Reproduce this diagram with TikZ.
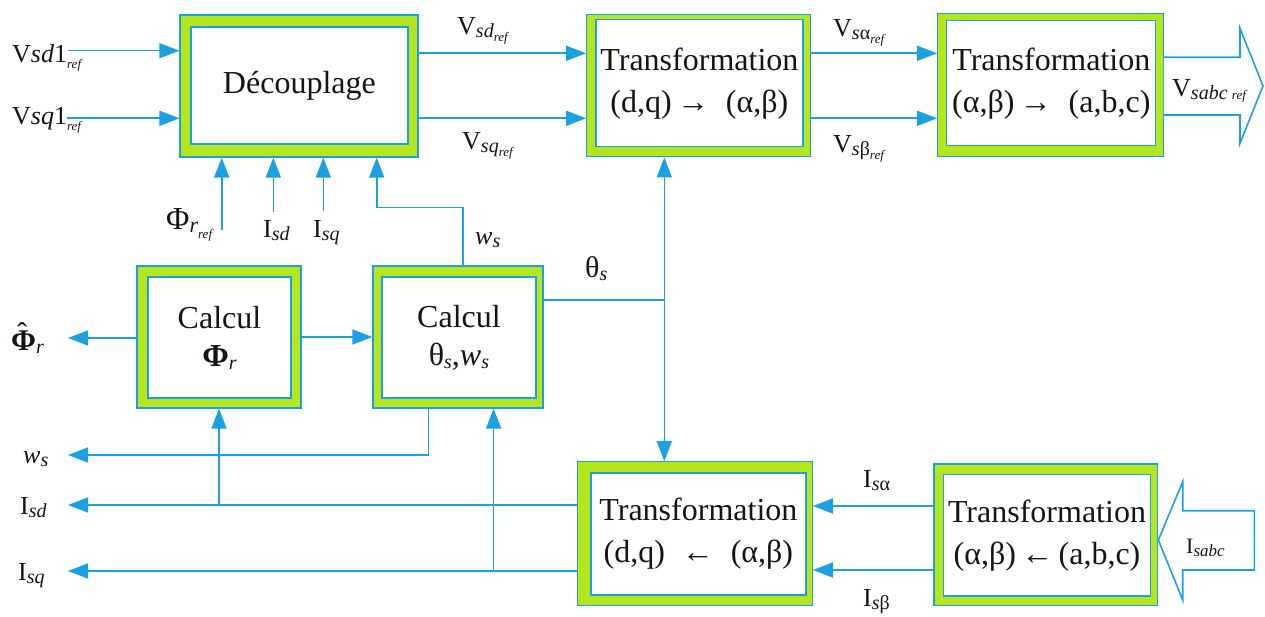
\documentclass[tikz,border=0pt]{standalone}
\usepackage{fontspec}
\setmainfont{Liberation Serif}
\usetikzlibrary{arrows.meta}
\definecolor{lineblue}{RGB}{27,161,226}
\definecolor{boxgreen}{RGB}{181,230,29}
\definecolor{txt}{RGB}{25,20,20}
\newcommand{\boxfont}{\fontsize{32}{42}\selectfont}
\newcommand{\labfont}{\fontsize{26}{30}\selectfont}
\newcommand{\sbi}[2][20]{\raisebox{-3pt}{\fontsize{#1}{#1}\selectfont\itshape #2}}
\newcommand{\rf}[1][-6pt]{\raisebox{#1}{\fontsize{13}{13}\selectfont\itshape ref}}
\newcommand{\phihat}{\makebox[0pt][l]{\hspace{0.2em}\raisebox{0.22em}{ˆ}}\textbf{Φ}}
\begin{document}
\begin{tikzpicture}[x=1pt,y=-1pt,
  outerbox/.style={draw=lineblue, fill=boxgreen, line width=1.2pt, inner sep=0pt},
  innerbox/.style={draw=lineblue, fill=white, line width=1.2pt, inner sep=0pt, align=center, font=\boxfont, text=txt},
  arr/.style={draw=lineblue, line width=1.6pt, -{Triangle[length=20pt,width=15pt]}},
  wire/.style={draw=lineblue, line width=1.6pt},
  bigarr/.style={draw=lineblue, line width=1.6pt, fill=white, line join=miter},
  lab/.style={inner sep=0pt, text=txt, font=\labfont, anchor=base west}]
\useasboundingbox (0,0) rectangle (1265,617);

% boxes
\node[outerbox, minimum width=238pt, minimum height=142pt] (dec) at (299,86) {};
\node[innerbox, minimum width=217pt, minimum height=117pt] (deci) at (299.4,85.5) {Découplage};

\node[outerbox, minimum width=224pt, minimum height=142pt] (t1) at (698.7,85.8) {};
\node[innerbox, minimum width=207pt, minimum height=127pt] (t1i) at (699.4,83.4) {Transformation\\(d,q)\,→\; (α,β)};

\node[outerbox, minimum width=225.6pt, minimum height=143.4pt] (t2) at (1050.5,85) {};
\node[innerbox, minimum width=209pt, minimum height=125pt] (t2i) at (1051.3,83.3) {Transformation\\(α,β)\,→\; (a,b,c)};

\node[outerbox, minimum width=164pt, minimum height=142pt] (cphi) at (219,337) {};
\node[innerbox, minimum width=143pt, minimum height=121pt] (cphii) at (219.5,337.5) {Calcul\\[-4pt]\textbf{Φ}\sbi{r}};

\node[outerbox, minimum width=170pt, minimum height=142pt] (cth) at (458,337) {};
\node[innerbox, minimum width=154pt, minimum height=121pt] (cthi) at (459,337.5) {Calcul\\[-4pt]θ\sbi{s},\textit{w}\sbi{s}};

\node[outerbox, minimum width=235pt, minimum height=144pt] (tinv1) at (694.8,533.7) {};
\node[innerbox, minimum width=215pt, minimum height=122pt] (tinv1i) at (698.4,533.9) {Transformation\\(d,q)\; ←\; (α,β)};

\node[outerbox, minimum width=223.7pt, minimum height=141.7pt] (tinv2) at (1045.9,534.9) {};
\node[innerbox, minimum width=207.4pt, minimum height=121.7pt] (tinv2i) at (1047,535.2) {Transformation\\(α,β)\,←\,(a,b,c)};

% free ends
\coordinate (vsd1) at (68,50.7);
\coordinate (vsq1) at (67,118.3);
\coordinate (phin) at (221.7,230);
\coordinate (isdn) at (273.3,211.7);
\coordinate (isqn) at (323.3,210.7);
\coordinate (phout) at (68,338);
\coordinate (wsout) at (68,455);
\coordinate (isdout) at (68,505);
\coordinate (isqout) at (68,571);
\coordinate (thj) at (664.3,300);

% top row connectors
\draw[arr] (vsd1) -- (vsd1 -| dec.west);
\draw[arr] (vsq1) -- (vsq1 -| dec.west);
\draw[arr] (dec.east |- 0,53.3) -- (t1.west |- 0,53.3);
\draw[arr] (dec.east |- 0,118.3) -- (t1.west |- 0,118.3);
\draw[arr] (t1.east |- 0,53.3) -- (t2.west |- 0,53.3);
\draw[arr] (t1.east |- 0,118.3) -- (t2.west |- 0,118.3);
\draw[arr] (phin) -- (phin |- dec.south);
\draw[arr] (isdn) -- (isdn |- dec.south);
\draw[arr] (isqn) -- (isqn |- dec.south);
\draw[arr] (463.2,0 |- cth.north) -- (463.2,207.5) -- (376.7,207.5) -- (376.7,0 |- dec.south);

% output big arrow
\draw[bigarr] (t2.east |- 0,57.3) -- (1240,57.3) -- (1240,28.3) -- (1263,86) -- (1240,143.3) -- (1240,115) -- (t2.east |- 0,115);
% input big arrow
\draw[bigarr] (tinv2.east |- 0,540) -- (1182.7,481.7) -- (1182.7,510.7) -- (1254.3,510.7) -- (1254.3,570) -- (1182.7,570) -- (1182.7,600) -- cycle;

% middle connectors
\draw[arr] (cphi.west |- phout) -- (phout);
\draw[arr] (cphi.east |- 0,337) -- (cth.west |- 0,337);
\draw[wire] (cth.east |- thj) -- (thj);
\draw[arr] (thj) -- (thj |- t1.south);
\draw[arr] (thj) -- (thj |- tinv1.north);
\draw[arr] (428.6,0 |- cth.south) -- (428.6,455) -- (wsout);

% bottom connectors
\draw[arr] (tinv2.west |- 0,506) -- (tinv1.east |- 0,506);
\draw[arr] (tinv2.west |- 0,570) -- (tinv1.east |- 0,570);
\draw[arr] (tinv1.west |- isdout) -- (isdout);
\draw[arr] (tinv1.west |- isqout) -- (isqout);
\draw[arr] (cphi.south |- isdout) -- (cphi.south);
\draw[arr] (493.6,571) -- (493.6,0 |- cth.south);

% labels
\node[lab] (lvsd1) at (12,63) {V\textit{sd}1\rf};
\node[lab] (lvsq1) at (12,125) {V\textit{sq}1\rf};
\node[lab] (lvsd) at (457,35) {V\sbi{sd}\rf[-7pt]};
\node[lab] (lvsq) at (462,150) {V\sbi{sq}\rf[-7pt]};
\node[lab] (lvsa) at (833,37) {V\sbi{s}\raisebox{-3pt}{\fontsize{20}{20}\selectfont α}\rf[-7pt]};
\node[lab] (lvsb) at (833,153) {V\sbi{s}\raisebox{-3pt}{\fontsize{20}{20}\selectfont β}\rf[-7pt]};
\node[lab] (lvabc) at (1172,97) {V\sbi{sabc}\,\rf[-3pt]};
\node[lab, font=\fontsize{32}{36}\selectfont] (lphiref) at (166,230) {Φ\sbi[22]{r}\rf[-9pt]};
\node[lab] (lisdn) at (263,238) {I\sbi{sd}};
\node[lab] (lisqn) at (313,238) {I\sbi{sq}};
\node[lab] (lwsn) at (475,245) {\textit{w}\sbi{s}};
\node[lab, font=\fontsize{30}{34}\selectfont] (lth) at (585,278) {θ\sbi{s}};
\node[lab, font=\fontsize{30}{34}\selectfont] (lphihat) at (11,350) {\phihat\sbi{r}};
\node[lab] (lws) at (23,463) {\textit{w}\sbi{s}};
\node[lab] (lisd) at (20,514) {I\sbi{sd}};
\node[lab] (lisq) at (18,580) {I\sbi{sq}};
\node[lab] (lisa) at (863,487) {I\sbi{s}\raisebox{-3pt}{\fontsize{20}{20}\selectfont α}};
\node[lab] (lisb) at (863,606) {I\sbi{s}\raisebox{-3pt}{\fontsize{20}{20}\selectfont β}};
\node[lab, font=\fontsize{22}{26}\selectfont] (lisabc) at (1186,553) {I\sbi[17]{sabc}};
\end{tikzpicture}
\end{document}
